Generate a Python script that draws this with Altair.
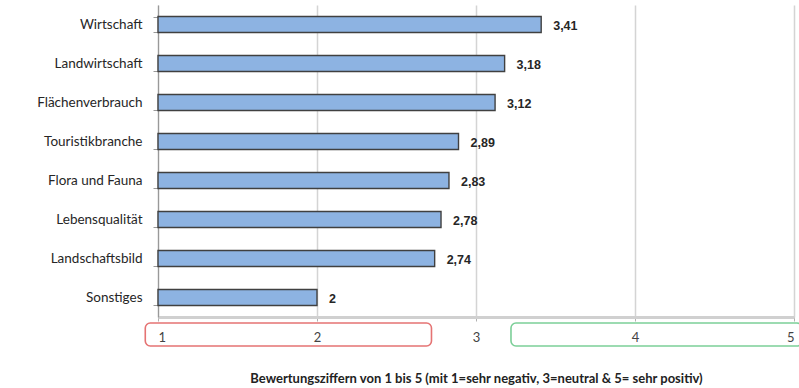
import altair as alt
import pandas as pd

# Ratings per topic (1 = sehr negativ, 3 = neutral, 5 = sehr positiv)
categories = ["Wirtschaft", "Landwirtschaft", "Flächenverbrauch", "Touristikbranche",
              "Flora und Fauna", "Lebensqualität", "Landschaftsbild", "Sonstiges"]
values = [3.41, 3.18, 3.12, 2.89, 2.83, 2.78, 2.74, 2.0]
value_labels = ["3,41", "3,18", "3,12", "2,89", "2,83", "2,78", "2,74", "2"]

# Highlight boxes around the negative and positive ends of the scale
band_names = ["negativ", "positiv"]
band_start = [0.92, 3.22]
band_end = [2.72, 5.05]
band_colors = ["#e57373", "#7ccf98"]

df = pd.DataFrame({"Kategorie": categories, "Wert": values, "Label": value_labels})
bands = pd.DataFrame({"Bereich": band_names, "x0": band_start, "x1": band_end,
                      "Farbe": band_colors})

FONT = "Lato"

x_scale = alt.Scale(domain=[1, 5], nice=False, zero=False)
y_enc = alt.Y("Kategorie:N", sort=categories,
              scale=alt.Scale(paddingInner=0.59, paddingOuter=0.295),
              axis=alt.Axis(title=None, labelFont=FONT, labelFontSize=13.5,
                            labelColor="#262626", labelPadding=11,
                            tickBand="extent", tickSize=5, tickColor="#999999",
                            domainColor="#999999", domainWidth=1.2))

bars = alt.Chart(df).mark_bar(size=16, color="#8db3e2", stroke="#404040",
                              strokeWidth=1.4).encode(
    x=alt.X("Wert:Q", scale=x_scale,
            axis=alt.Axis(values=[1, 2, 3, 4, 5], format="d", grid=True,
                          gridColor="#d4d4d4", gridWidth=1.5,
                          domainColor="#d0d0d0", domainWidth=3,
                          tickColor="#b0b0b0", tickSize=4,
                          labelFont=FONT, labelFontSize=13, labelColor="#444444",
                          labelPadding=10,
                          title="Bewertungsziffern von 1 bis 5 (mit 1=sehr negativ, 3=neutral & 5= sehr positiv)",
                          titleFont=FONT, titleFontSize=13, titleFontWeight="bold",
                          titleColor="#222222", titlePadding=28)),
    x2=alt.datum(1),
    y=y_enc,
)

text = alt.Chart(df).mark_text(align="left", baseline="middle", dx=12, dy=1,
                               font="Liberation Sans", fontSize=12.5,
                               fontWeight="bold", color="#262626").encode(
    x=alt.X("Wert:Q", scale=x_scale),
    y=alt.Y("Kategorie:N", sort=categories),
    text="Label:N",
)

boxes = alt.Chart(bands).mark_rect(filled=False, cornerRadius=5, strokeWidth=1.6,
                                   clip=False).encode(
    x=alt.X("x0:Q", scale=x_scale),
    x2="x1:Q",
    y=alt.value(318),
    y2=alt.value(341),
    stroke=alt.Color("Farbe:N", scale=None),
)

chart = alt.layer(boxes, bars, text).properties(
    width=636, height=312,
    autosize=alt.AutoSizeParams(type="none"),
    padding={"left": 158, "top": 5, "right": 5, "bottom": 71},
).configure_view(stroke=None)

chart.save("out.html", embed_options={"renderer": "svg", "actions": False})
